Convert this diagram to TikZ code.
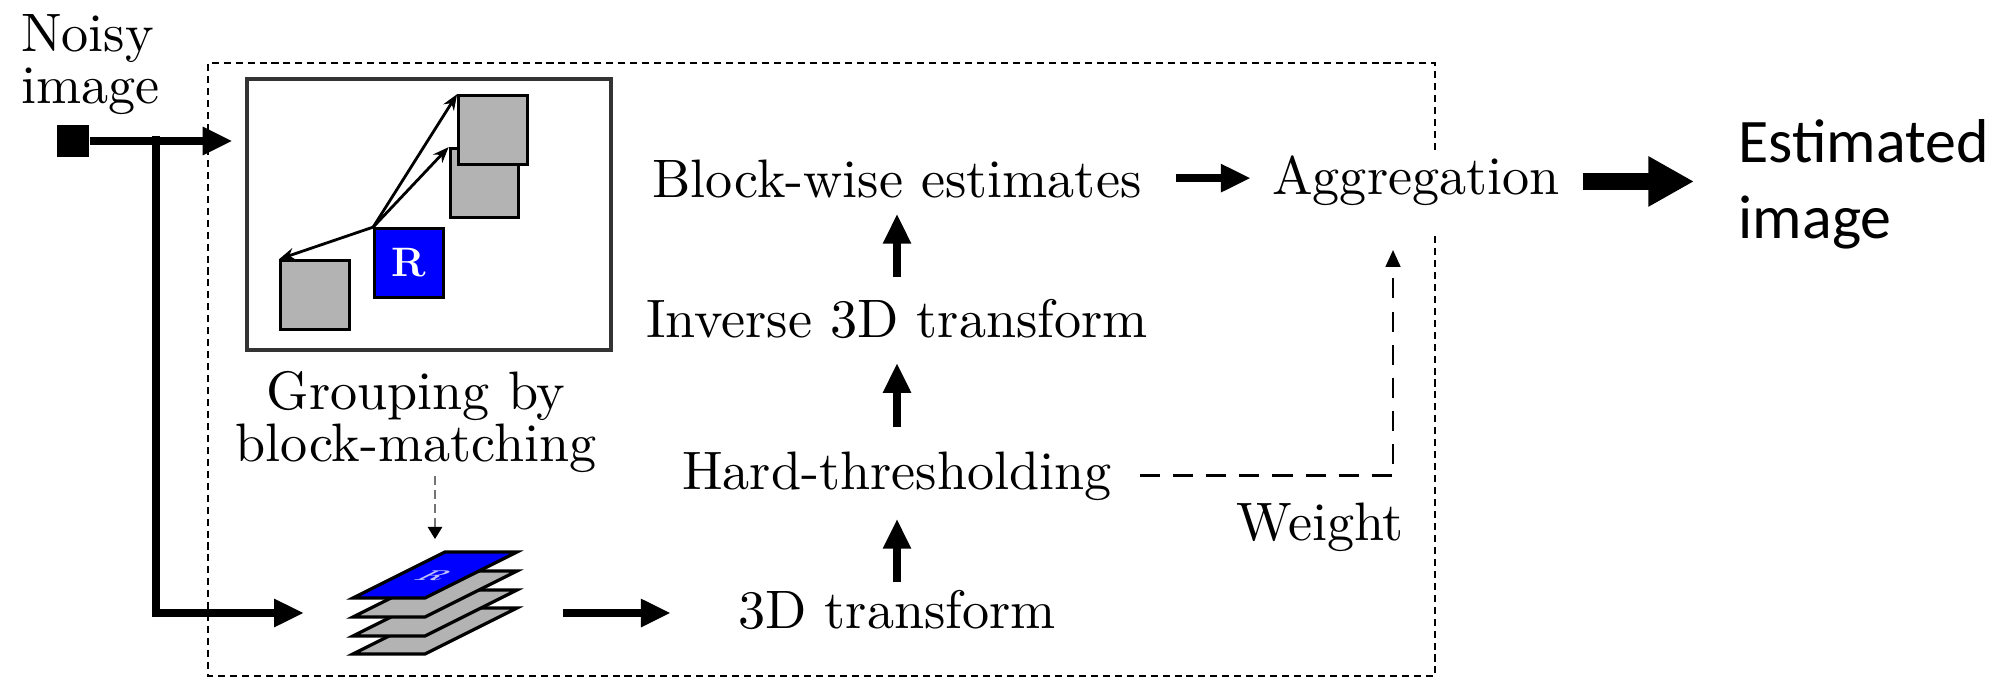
\documentclass[tikz,border=0pt]{standalone}
\usepackage{fontspec}
\newfontfamily\estfont{Carlito}
\usetikzlibrary{arrows.meta}
\definecolor{blockgray}{RGB}{179,179,179}
\tikzset{
  lbl/.style={font=\fontsize{10}{9.6}\selectfont, scale=1.54, inner sep=0pt, text height=7pt, text depth=2pt},
  lbltwo/.style={font=\fontsize{10}{9.6}\selectfont, scale=1.54, inner sep=0pt},
  thk/.style={line width=2.3pt, -{Triangle[length=8.5pt,width=7.5pt]}},
  bigarrow/.style={line width=4.8pt, -{Triangle[length=13pt,width=13.4pt]}},
  match/.style={line width=0.8pt, -{Stealth[length=4.5pt,width=3.5pt]}},
  blk/.style={draw=black, fill=blockgray, line width=0.9pt, minimum size=19.5pt, inner sep=0pt},
  frame/.style={line width=0.8pt, dash pattern=on 2pt off 1.4pt},
  groupdash/.style={draw=black!55, line width=0.8pt, dash pattern=on 2.5pt off 1.5pt, -{Triangle[length=3.5pt,width=4pt,color=black]}},
  wdash/.style={line width=0.6pt, dash pattern=on 5.7pt off 3.7pt, -{Triangle[length=4.8pt,width=4.2pt]}}
}

\begin{document}
\begin{tikzpicture}[x=0.01cm, y=-0.01cm]
    \useasboundingbox (0,0) rectangle (2010,679); % page size of the picture
    \draw [frame] (1435,150) -- (1435,63) -- (208,63) -- (208,676) -- (1435,676) -- (1435,233); % dashed frame, open behind Aggregation

    % block-matching window
    \node [draw=black!80, line width=1.2pt, minimum width=103.3pt, minimum height=77.1pt, inner sep=0pt] (grp) at (429,214.5) {};
    \node [blk] (mid) at (484.5,183) {};
    \node [blk] (top) at (493,130) {};
    \node [blk] (low) at (315,295) {};
    \node [blk, fill=blue, text=white, font=\fontsize{11.7}{12}\bfseries\selectfont] (ref) at (409,263) {R};
    \draw [match] (ref.north west) -- (low.north west);
    \draw [match] (ref.north west) -- (top.north west);
    \draw [match] (ref.north west) -- (mid.north west);

    % stack of grouped blocks
    \foreach \y/\c in {654/blockgray, 636/blockgray, 617/blockgray, 598/blue}
        \filldraw [fill=\c, draw=black, line width=0.9pt] (353,\y) -- (425,\y) -- (517,\y-46) -- (445,\y-46) -- cycle;
    \node [text=white!75!blue, font=\fontsize{8}{8}\bfseries\selectfont, cm={1,0,1,0.5,(0,0)}] (stkr) at (435,576) {R};
    \node [minimum width=46.7pt, minimum height=29pt, inner sep=0pt] (stk) at (435,613) {};

    % texts
    \node [lbltwo, align=left, anchor=north west] (noisy) at (20,13) {Noisy\\image};
    \node [fill=black, minimum size=9.3pt, inner sep=0pt] (src) at (73,141) {};
    \node [lbltwo, align=center, anchor=north] (grptxt) at (416,370) {Grouping by\\block-matching};
    \node [lbl, anchor=base] (t3d) at (897,628) {3D transform};
    \node [lbl, anchor=base] (ht) at (897,489) {Hard-thresholding};
    \node [lbl, anchor=base] (inv) at (897,337) {Inverse 3D transform};
    \node [lbl, anchor=base] (bwe) at (897,198) {Block-wise estimates};
    \node [lbl, anchor=base] (agg) at (1416,195) {Aggregation};
    \node [lbl, anchor=base east] (wgt) at (1405,540) {Weight};
    \node [font=\estfont\fontsize{17.6}{21.6}\selectfont, align=left, anchor=north west, inner sep=0pt] (est) at (1738,119) {Estimated\\image};

    % connectors
    \coordinate (split) at (156,136);
    \coordinate (wtip) at (1393,250);
    \draw [thk, shorten >=3.6pt] (src.east) -- (src.east -| grp.west); % input to the window
    \draw [thk, line join=miter, shorten >=13.7pt] (split) |- (stk.west); % input to the stack
    \draw [groupdash, shorten <=0.7pt, shorten >=6.3pt] (stk.north |- grptxt.south) -- (stk.north);
    \draw [thk, shorten <=12.8pt, shorten >=18.9pt] (stk.east) -- (stk.east -| t3d.west);
    \draw [thk, shorten <=2pt, shorten >=5.1pt] (t3d.north) -- (ht.south);
    \draw [thk, shorten <=6.5pt, shorten >=4pt] (ht.north) -- (inv.south);
    \draw [thk, shorten <=6pt, shorten >=1.1pt] (inv.north) -- (bwe.south);
    \draw [thk, shorten <=9.4pt, shorten >=5.8pt] ([yshift=1.8pt]bwe.east) -- ([yshift=1.8pt]bwe.east -| agg.west);
    \draw [bigarrow, shorten <=6.4pt, shorten >=12.5pt] (agg.east) -- (agg.east -| est.west);
    \draw [wdash, shorten <=7.8pt] (ht.east) -| (wtip); % weight to aggregation
\end{tikzpicture}
\end{document}
